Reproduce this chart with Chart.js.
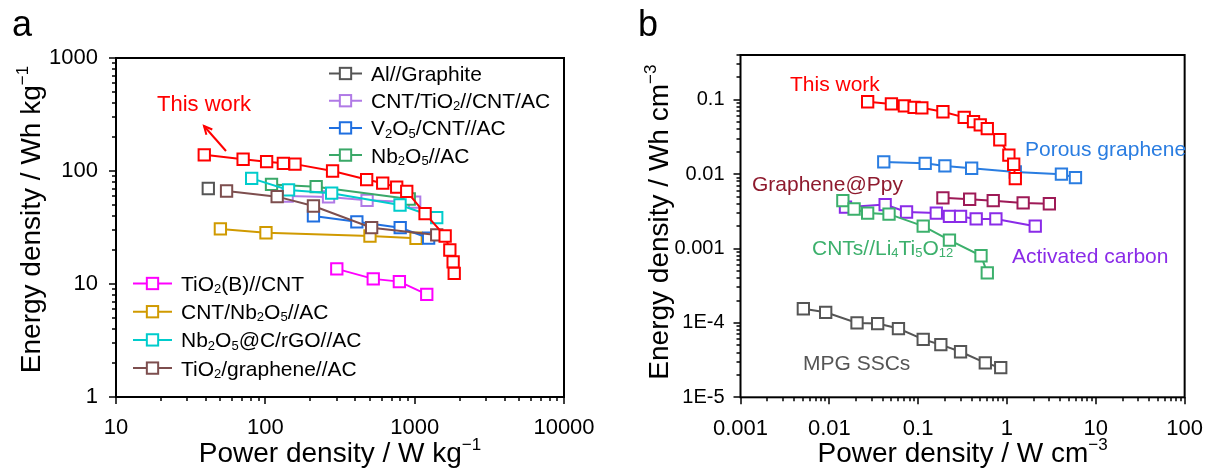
<!DOCTYPE html>
<html>
<head>
<meta charset="utf-8">
<script src="https://cdn.jsdelivr.net/npm/chart.js@4.4.1/dist/chart.umd.min.js"></script>
<style>
    html, body { margin: 0; padding: 0; background: #fff; }
    #wrap { position: relative; width: 1213px; height: 473px; overflow: hidden; }
    canvas { position: absolute; top: 0; }
    #chartA { left: 0; }
    #chartB { left: 606px; }
</style>
</head>
<body>
<div id="wrap">
    <canvas id="chartA" width="606" height="473" style="width:606px;height:473px"></canvas>
    <canvas id="chartB" width="607" height="473" style="width:607px;height:473px"></canvas>
</div>
<script>
// ============================================================
// Ragone plots: (a) gravimetric, (b) volumetric
// ============================================================

// ── Data: panel a (W/kg, Wh/kg) ─────────────────────────────
const thisWorkA_P   = [39, 71, 102, 132, 158, 282, 477, 611, 758, 885, 1174, 1600, 1720, 1810, 1840];
const thisWorkA_E   = [139, 127, 121, 117, 115, 100, 84, 78, 72, 66, 42, 26.6, 20, 15.7, 12.4];
const alGraphite_P  = [41.5];
const alGraphite_E  = [70];
const cntTiO2_P     = [140, 265, 480, 1000];
const cntTiO2_E     = [60, 59, 55, 53];
const v2o5_P        = [210, 410, 800, 1240];
const v2o5_E        = [40, 35.5, 31.5, 25.5];
const nb2o5_P       = [110, 219, 920];
const nb2o5_E       = [76, 72.6, 56.5];
const tio2B_P       = [301, 528, 790, 1205];
const tio2B_E       = [13.6, 11.1, 10.5, 8.1];
const cntNb2o5_P    = [50, 101, 502, 1021];
const cntNb2o5_E    = [30.7, 28.4, 26.6, 25.4];
const nb2o5rGO_P    = [81, 143, 278, 798, 1405];
const nb2o5rGO_E    = [86, 68, 63.6, 50, 38.6];
const tio2Gr_P      = [55, 120, 210, 515, 1405];
const tio2Gr_E      = [66.5, 59.3, 49, 31.5, 27.2];

const xTicksA = [10, 100, 1000, 10000];
const xLabelsA = ["10", "100", "1000", "10000"];
const yTicksA = [1, 10, 100, 1000];
const yLabelsA = ["1", "10", "100", "1000"];

// ── Data: panel b (W/cm3, Wh/cm3) ───────────────────────────
const thisWorkB_P = [0.027, 0.05, 0.07, 0.09, 0.11, 0.19, 0.33, 0.42, 0.5, 0.6, 0.83, 1.05, 1.19, 1.24];
const thisWorkB_E = [0.094, 0.088, 0.083, 0.079, 0.078, 0.069, 0.058, 0.051, 0.046, 0.041, 0.029, 0.018, 0.0136, 0.0087];
const porous_P    = [0.041, 0.12, 0.2, 0.4, 1.24, 4.1, 5.9];
const porous_E    = [0.0146, 0.014, 0.0129, 0.012, 0.0107, 0.0100, 0.0090];
const ppy_P       = [0.19, 0.38, 0.7, 1.52, 3.0];
const ppy_E       = [0.0048, 0.0046, 0.0044, 0.0041, 0.0040];
const actC_P      = [0.0152, 0.0425, 0.074, 0.16, 0.225, 0.3, 0.45, 0.75, 2.08];
const actC_E      = [0.0036, 0.0039, 0.0031, 0.003, 0.0027, 0.0027, 0.0025, 0.0025, 0.002];
const cntLto_P    = [0.0142, 0.019, 0.027, 0.047, 0.114, 0.225, 0.51, 0.6];
const cntLto_E    = [0.0044, 0.0034, 0.003, 0.0029, 0.002, 0.0013, 0.0008, 0.00047];
const mpg_P       = [0.0051, 0.0091, 0.0205, 0.035, 0.06, 0.114, 0.18, 0.3, 0.57, 0.85];
const mpg_E       = [1.55e-4, 1.39e-4, 1.0e-4, 9.8e-5, 8.4e-5, 6e-5, 5.1e-5, 4.1e-5, 2.9e-5, 2.5e-5];

const xTicksB = [0.001, 0.01, 0.1, 1, 10, 100];
const xLabelsB = ["0.001", "0.01", "0.1", "1", "10", "100"];
const yTicksB = [1e-5, 1e-4, 0.001, 0.01, 0.1];
const yLabelsB = ["1E-5", "1E-4", "0.001", "0.01", "0.1"];

// ── Helpers ──────────────────────────────────────────────────
const FONT = '"Liberation Sans", Arial, Helvetica, sans-serif';
const MARK_R = 8; // rect point radius -> side = r * sqrt2

const series = (label, xs, ys, color) => ({
    label,
    data: xs.map((x, i) => ({ x, y: ys[i] })),
    showLine: true,
    borderColor: color,
    borderWidth: 2,
    pointStyle: "rect",
    pointRadius: MARK_R,
    pointBorderWidth: 2,
    pointBorderColor: color,
    pointBackgroundColor: "#fff",
    pointHoverRadius: MARK_R,
});

// "_{..}" = subscript, "^{..}" = superscript
const parseRich = (s) => {
    const out = [];
    const re = /([_^])\{([^}]*)\}|([^_^]+)/g;
    let m;
    while ((m = re.exec(s))) {
        if (m[3]) out.push({ t: m[3], k: 0 });
        else out.push({ t: m[2], k: m[1] === "_" ? 1 : 2 });
    }
    return out;
};

const drawRich = (ctx, s, x, y, size, color, align = "left") => {
    const parts = parseRich(s);
    const fnt = k => `${k ? Math.round(size * 0.62) : size}px ${FONT}`;
    let w = 0;
    parts.forEach(p => { ctx.font = fnt(p.k); p.w = ctx.measureText(p.t).width; w += p.w; });
    let cx = align === "center" ? x - w / 2 : align === "right" ? x - w : x;
    ctx.fillStyle = color;
    ctx.textAlign = "left";
    ctx.textBaseline = "alphabetic";
    parts.forEach(p => {
        ctx.font = fnt(p.k);
        const dy = p.k === 1 ? size * 0.1 : p.k === 2 ? -size * 0.42 : 0;
        ctx.fillText(p.t, cx, y + dy);
        cx += p.w;
    });
};

// Frame, log ticks, titles, annotations, legend
const decoPlugin = {
    id: "deco",
    afterDraw(chart, args, o) {
        const { ctx, chartArea: a, scales: { x, y } } = chart;
        ctx.save();

        // minor + major ticks
        const logTicks = (s) => {
            const out = [];
            const lo = Math.floor(Math.log10(s.min)), hi = Math.ceil(Math.log10(s.max));
            for (let e = lo; e <= hi; e++) {
                for (let k = 1; k < 10; k++) {
                    const v = k * Math.pow(10, e);
                    if (v >= s.min * 0.999 && v <= s.max * 1.001) out.push({ v, major: k === 1 });
                }
            }
            return out;
        };
        ctx.strokeStyle = "#000";
        ctx.lineWidth = 1.5;
        ctx.beginPath();
        logTicks(x).forEach(t => {
            const px = Math.round(x.getPixelForValue(t.v));
            ctx.moveTo(px, a.bottom);
            ctx.lineTo(px, a.bottom + (t.major ? 7 : 4));
        });
        logTicks(y).forEach(t => {
            const py = Math.round(y.getPixelForValue(t.v));
            ctx.moveTo(a.left, py);
            ctx.lineTo(a.left - (t.major ? 7 : 4), py);
        });
        ctx.stroke();

        ctx.lineWidth = 2;
        ctx.strokeRect(a.left, a.top, a.right - a.left, a.bottom - a.top);

        // panel letter
        ctx.font = `36px ${FONT}`;
        ctx.fillStyle = "#000";
        ctx.textAlign = "left";
        ctx.fillText(o.letter.t, o.letter.x, o.letter.y);

        // axis titles
        drawRich(ctx, o.xTitle, (a.left + a.right) / 2, o.xTitleY, 28, "#000", "center");
        ctx.save();
        ctx.translate(o.yTitleX, (a.top + a.bottom) / 2 + o.yTitleDy);
        ctx.rotate(-Math.PI / 2);
        drawRich(ctx, o.yTitle, 0, 0, 28, "#000", "center");
        ctx.restore();

        // free text labels
        (o.texts || []).forEach(t => drawRich(ctx, t.t, t.x, t.y, t.size || 21, t.color));

        // arrows
        (o.arrows || []).forEach(ar => {
            ctx.strokeStyle = ar.color;
            ctx.fillStyle = ar.color;
            ctx.lineWidth = 2;
            ctx.beginPath();
            ctx.moveTo(ar.x1, ar.y1);
            ctx.lineTo(ar.x2, ar.y2);
            ctx.stroke();
            const ang = Math.atan2(ar.y2 - ar.y1, ar.x2 - ar.x1);
            const hl = 9;
            ctx.beginPath();
            ctx.moveTo(ar.x2 - hl * Math.cos(ang - 0.45), ar.y2 - hl * Math.sin(ang - 0.45));
            ctx.lineTo(ar.x2, ar.y2);
            ctx.lineTo(ar.x2 - hl * Math.cos(ang + 0.45), ar.y2 - hl * Math.sin(ang + 0.45));
            ctx.stroke();
        });

        // legend blocks
        (o.legend || []).forEach(g => {
            g.items.forEach((idx, i) => {
                const ds = chart.data.datasets[idx];
                const cy = g.y + i * g.dy;
                ctx.strokeStyle = ds.borderColor;
                ctx.lineWidth = 2;
                ctx.beginPath();
                ctx.moveTo(g.x, cy);
                ctx.lineTo(g.x + g.len, cy);
                ctx.stroke();
                const s = MARK_R * Math.SQRT2;
                ctx.fillStyle = "#fff";
                ctx.fillRect(g.x + g.len / 2 - s / 2, cy - s / 2, s, s);
                ctx.strokeRect(g.x + g.len / 2 - s / 2, cy - s / 2, s, s);
                drawRich(ctx, ds.label, g.x + g.len + 9, cy + 7.5, 21, "#000");
            });
        });

        ctx.restore();
    }
};

const logAxis = (min, max, ticks, labels, fitKey, fitVal, pad, size = 22) => ({
    type: "logarithmic",
    min, max,
    grid: { display: false },
    border: { display: false },
    ticks: {
        color: "#000",
        font: { family: FONT, size },
        padding: pad,
        autoSkip: false,
        maxRotation: 0,
        callback: (v, i) => labels[i],
    },
    afterBuildTicks: s => { s.ticks = ticks.map(v => ({ value: v })); },
    afterFit: s => { s[fitKey] = fitVal; },
});

const baseOptions = (xAxis, yAxis, pad, deco) => ({
    responsive: false,
    animation: false,
    devicePixelRatio: 1,
    layout: { padding: pad },
    plugins: { legend: { display: false }, tooltip: { enabled: false }, deco },
    scales: { x: xAxis, y: yAxis },
});

// ── Panel a ──────────────────────────────────────────────────
new Chart(document.getElementById("chartA"), {
    type: "scatter",
    data: {
        datasets: [
            series("This work", thisWorkA_P, thisWorkA_E, "#ff0000"),
            series("TiO_{2}/graphene//AC", tio2Gr_P, tio2Gr_E, "#7d4e4e"),
            series("Nb_{2}O_{5}@C/rGO//AC", nb2o5rGO_P, nb2o5rGO_E, "#00cccc"),
            series("Nb_{2}O_{5}//AC", nb2o5_P, nb2o5_E, "#3aa868"),
            series("CNT/TiO_{2}//CNT/AC", cntTiO2_P, cntTiO2_E, "#b07ae6"),
            series("V_{2}O_{5}/CNT//AC", v2o5_P, v2o5_E, "#1f6fe0"),
            series("CNT/Nb_{2}O_{5}//AC", cntNb2o5_P, cntNb2o5_E, "#d09a00"),
            series("TiO_{2}(B)//CNT", tio2B_P, tio2B_E, "#ff00ff"),
            series("Al//Graphite", alGraphite_P, alGraphite_E, "#555555"),
        ]
    },
    options: baseOptions(
        logAxis(10, 10000, xTicksA, xLabelsA, "height", 76, 10),
        logAxis(1, 1000, yTicksA, yLabelsA, "width", 116, 10),
        { left: 0, right: 42, top: 58, bottom: 0 },
        {
            letter: { t: "a", x: 12, y: 36 },
            xTitle: "Power density / W kg^{\u22121}",
            xTitleY: 462,
            yTitle: "Energy density / Wh kg^{\u22121}",
            yTitleX: 40,
            yTitleDy: -8,
            texts: [{ t: "This work", x: 157, y: 111, size: 22, color: "#ff0000" }],
            arrows: [{ x1: 226, y1: 151, x2: 204, y2: 126, color: "#ff0000" }],
            legend: [
                { x: 329, y: 73.5, dy: 27.2, len: 33, items: [8, 4, 5, 3] },
                { x: 133, y: 283.5, dy: 28.2, len: 39, items: [7, 6, 2, 1] },
            ],
        }
    ),
    plugins: [decoPlugin],
});

// ── Panel b ──────────────────────────────────────────────────
const OX = 606; // canvas b offset on page
new Chart(document.getElementById("chartB"), {
    type: "scatter",
    data: {
        datasets: [
            series("This work", thisWorkB_P, thisWorkB_E, "#ff0000"),
            series("Porous graphene", porous_P, porous_E, "#2a7de1"),
            series("Graphene@Ppy", ppy_P, ppy_E, "#9e1a57"),
            series("CNTs//Li4Ti5O12", cntLto_P, cntLto_E, "#3cb06c"),
            series("Activated carbon", actC_P, actC_E, "#8a2be8"),
            series("MPG SSCs", mpg_P, mpg_E, "#555555"),
        ]
    },
    options: baseOptions(
        logAxis(0.001, 100, xTicksB, xLabelsB, "height", 75.7, 10),
        logAxis(1e-5, 0.4, yTicksB, yLabelsB, "width", 134.5, 8, 20),
        { left: 0, right: 23.7, top: 55, bottom: 0 },
        {
            letter: { t: "b", x: 638 - OX, y: 36 },
            xTitle: "Power density / W cm^{\u22123}",
            xTitleY: 462,
            yTitle: "Energy density / Wh cm^{\u22123}",
            yTitleX: 668 - OX,
            yTitleDy: -4,
            texts: [
                { t: "This work", x: 790 - OX, y: 91, color: "#ff0000" },
                { t: "Porous graphene", x: 1025 - OX, y: 156, color: "#2a7de1" },
                { t: "Graphene@Ppy", x: 752 - OX, y: 191, color: "#8e1a2e" },
                { t: "CNTs//Li_{4}Ti_{5}O_{12}", x: 812 - OX, y: 254.5, color: "#3cb06c" },
                { t: "Activated carbon", x: 1012 - OX, y: 263, color: "#8a2be8" },
                { t: "MPG SSCs", x: 803 - OX, y: 369.5, color: "#555555" },
            ],
        }
    ),
    plugins: [decoPlugin],
});
</script>
</body>
</html>
